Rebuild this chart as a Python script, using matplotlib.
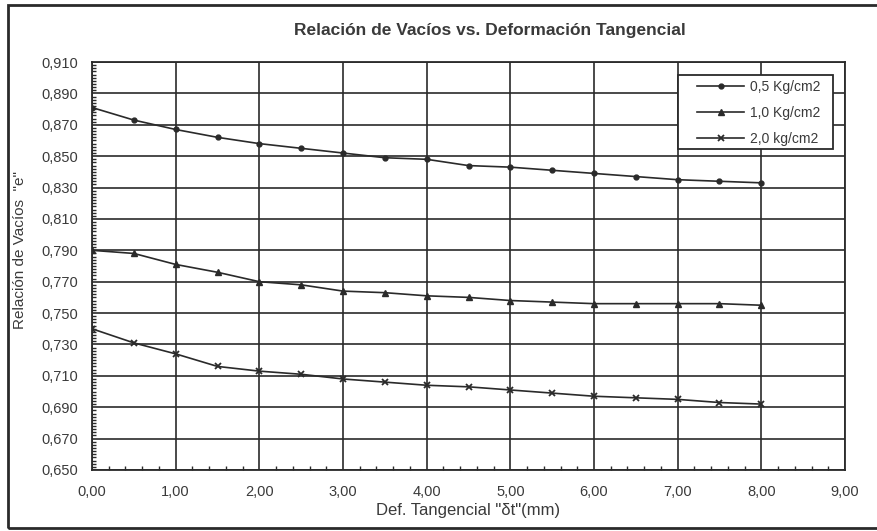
import numpy as np
import matplotlib
matplotlib.use("Agg")
import matplotlib.pyplot as plt
from matplotlib.ticker import FixedLocator, MultipleLocator, FuncFormatter
from matplotlib.patches import Rectangle

plt.rcParams['font.family'] = ['Liberation Sans', 'DejaVu Sans']

# deformacion tangencial (mm)
x = [0.0, 0.5, 1.0, 1.5, 2.0, 2.5, 3.0, 3.5, 4.0, 4.5, 5.0, 5.5, 6.0, 6.5, 7.0, 7.5, 8.0]

# relacion de vacios para cada carga normal
e_05 = [0.881, 0.873, 0.867, 0.862, 0.858, 0.855, 0.852, 0.849, 0.848, 0.844,
        0.843, 0.841, 0.839, 0.837, 0.835, 0.834, 0.833]
e_10 = [0.790, 0.788, 0.781, 0.776, 0.770, 0.768, 0.764, 0.763, 0.761, 0.760,
        0.758, 0.757, 0.756, 0.756, 0.756, 0.756, 0.755]
e_20 = [0.740, 0.731, 0.724, 0.716, 0.713, 0.711, 0.708, 0.706, 0.704, 0.703,
        0.701, 0.699, 0.697, 0.696, 0.695, 0.693, 0.692]

labels = ['0,5 Kg/cm2', '1,0 Kg/cm2', '2,0 kg/cm2']
yticks = [0.650, 0.670, 0.690, 0.710, 0.730, 0.750, 0.770, 0.790,
          0.810, 0.830, 0.850, 0.870, 0.890, 0.910]

fig = plt.figure(figsize=(8.78, 5.31), dpi=100)
ax = fig.add_axes([0.1048, 0.1149, 0.8576, 0.7683])

ink = '#2a2a2a'
txt = '#3a3a3a'
ax.plot(x, e_05, color=ink, lw=1.2, marker='o', ms=3.5, label=labels[0])
ax.plot(x, e_10, color=ink, lw=1.2, marker='^', ms=5, label=labels[1])
ax.plot(x, e_20, color=ink, lw=1.2, marker='x', ms=5, mew=1.3, label=labels[2])

ax.set_xlim(0, 9)
ax.set_ylim(0.650, 0.910)
ax.xaxis.set_major_locator(MultipleLocator(1))
ax.xaxis.set_minor_locator(MultipleLocator(0.2))
ax.yaxis.set_major_locator(FixedLocator(yticks))
ax.yaxis.set_minor_locator(MultipleLocator(0.002))
ax.xaxis.set_major_formatter(FuncFormatter(lambda v, p: f"{v:.2f}".replace('.', ',')))
ax.yaxis.set_major_formatter(FuncFormatter(lambda v, p: f"{v:.3f}".replace('.', ',')))

ax.grid(True, which='major', color=ink, lw=1.2)
ax.tick_params(which='major', direction='in', length=0, labelsize=10.5, labelcolor=txt)
ax.tick_params(axis='y', which='major', pad=10)
ax.tick_params(axis='x', which='major', pad=11)
ax.tick_params(which='minor', direction='in', length=3, width=1, color=ink)
for s in ax.spines.values():
    s.set_color(ink)
    s.set_linewidth(1.3)

ax.set_xlabel('Def. Tangencial "\u03b4t"(mm)', fontsize=12, color=txt, labelpad=3)
ax.set_ylabel('Relación de Vacíos  "e"', fontsize=11, color=txt, va='center')
ax.yaxis.set_label_coords(-0.0956, 0.539)
fig.text(0.5575, 0.9435, 'Relación de Vacíos vs. Deformación Tangencial',
         ha='center', va='center', fontsize=12.5, fontweight='bold', color=txt)

# caja de la leyenda
ax.add_patch(Rectangle((0.778, 0.787), 0.206, 0.181, transform=ax.transAxes,
                       facecolor='white', edgecolor=ink, lw=1.3, zorder=4.5))
leg = ax.legend(loc='upper left', bbox_to_anchor=(0.8035, 0.956), fontsize=10,
                frameon=False, handlelength=3.4, handletextpad=0.4,
                borderpad=0, borderaxespad=0, labelspacing=0.85)
leg.set_zorder(5)
for t in leg.get_texts():
    t.set_color(txt)

# marco exterior del grafico
fig.patches.append(Rectangle((0.009, 0.006), 1.2, 0.985, transform=fig.transFigure,
                             fill=False, edgecolor=ink, lw=2))

fig.savefig('out.png', dpi=100)
